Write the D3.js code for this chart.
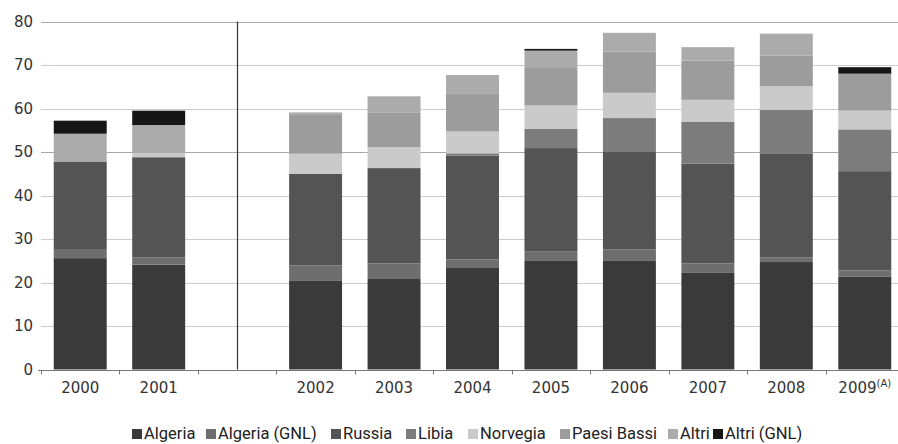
<!DOCTYPE html>
<html><head><meta charset="utf-8">
<script src="https://cdn.jsdelivr.net/npm/d3@7/dist/d3.min.js"></script>
<style>
html,body{margin:0;padding:0;background:#fff;}
svg{display:block;}
</style></head>
<body><svg id="c" width="898" height="444"></svg>
<script>
const years = ["2000","2001","gap","2002","2003","2004","2005","2006","2007","2008","2009"];
const yearLabels = ["2000","2001","","2002","2003","2004","2005","2006","2007","2008","2009"];
const seriesNames = ["Algeria","Algeria (GNL)","Russia","Libia","Norvegia","Paesi Bassi","Altri","Altri (GNL)"];
const algeria     = [25.6, 24.1, 0, 20.5, 20.8, 23.5, 25.1, 25.1, 22.2, 24.7, 21.4];
const algeriaGNL  = [ 2.1,  1.7, 0,  3.4,  3.6,  1.8,  2.1,  2.5,  2.2,  1.1,  1.4];
const russia      = [20.0, 23.0, 0, 21.1, 21.9, 23.9, 23.7, 22.4, 22.9, 23.9, 22.8];
const libia       = [ 0.0,  0.0, 0,  0.0,  0.0,  0.5,  4.4,  7.8,  9.6, 10.0,  9.6];
const norvegia    = [ 0.0,  1.0, 0,  4.6,  4.8,  5.0,  5.4,  5.8,  5.1,  5.4,  4.3];
const paesiBassi  = [ 0.0,  0.0, 0,  9.1,  7.9,  8.8,  8.6,  9.5,  9.0,  7.1,  8.5];
const altri       = [ 6.5,  6.4, 0,  0.4,  3.8,  4.2,  4.0,  4.3,  3.1,  5.0,  0.0];
const altriGNL    = [ 3.0,  3.3, 0,  0.0,  0.0,  0.0,  0.4,  0.0,  0.0,  0.0,  1.5];
const yTicks = [0,10,20,30,40,50,60,70,80];
const colors = ["#3a3a3a","#6e6e6e","#545454","#7c7c7c","#cacaca","#9c9c9c","#ababab","#161616"];

const seriesArrays = [algeria, algeriaGNL, russia, libia, norvegia, paesiBassi, altri, altriGNL];
const table = years.map((yr,i)=>{const o={year:yr}; seriesNames.forEach((s,k)=>o[s]=seriesArrays[k][i]); return o;});

const svg = d3.select("#c");
const mLeft = 41, mRight = 904, mTop = 21.5, mBottom = 369.5;
const x = d3.scaleBand().domain(years).range([mLeft,mRight]).paddingInner(0.325).paddingOuter(0.1625);
const y = d3.scaleLinear().domain([0,80]).range([mBottom, mTop]);

// gridlines
svg.append("g").selectAll("line").data(yTicks.filter(d=>d>0)).join("line")
  .attr("x1",mLeft).attr("x2",898).attr("y1",d=>Math.round(y(d))+0.5).attr("y2",d=>Math.round(y(d))+0.5)
  .attr("stroke",d=>(d===50||d===80)?"#a8a8a8":"#cccccc").attr("stroke-width",1);

// bars
const stack = d3.stack().keys(seriesNames)(table);
svg.append("g").selectAll("g").data(stack).join("g")
  .attr("fill",(d,i)=>colors[i])
  .selectAll("rect").data(d=>d.filter(p=>p.data.year!=="gap" && p[1]-p[0]>0)).join("rect")
  .attr("x",d=>x(d.data.year)).attr("width",x.bandwidth())
  .attr("y",d=>y(d[1])).attr("height",d=>y(d[0])-y(d[1]));

// separator
const sepX = Math.round(x("gap")+x.bandwidth()/2)+0.5;
svg.append("line").attr("x1",sepX).attr("x2",sepX).attr("y1",y(80)).attr("y2",y(0))
  .attr("stroke","#333").attr("stroke-width",1.2);

// y axis labels
const yAxis = d3.axisLeft(y).tickValues(yTicks).tickSize(0).tickPadding(9);
const gy = svg.append("g").attr("transform",`translate(${mLeft+1},0)`).call(yAxis);
gy.select(".domain").remove();
gy.selectAll("text").attr("font-family","DejaVu Sans").attr("font-size",15).attr("fill","#333");

// x axis
const gx = svg.append("g").attr("transform",`translate(0,${Math.round(y(0))+0.5})`)
  .call(d3.axisBottom(x).tickSize(0).tickPadding(12).tickFormat((d,i)=>yearLabels[i]));
gx.select(".domain").remove();
gx.append("line").attr("x1",mLeft-3).attr("x2",898).attr("stroke","#777");
gx.selectAll(".tick text").attr("font-family","DejaVu Sans").attr("font-size",15).attr("fill","#333");
const step = x.step();
gx.append("g").selectAll("line").data(d3.range(0,12)).join("line")
  .attr("x1",i=>Math.round(mLeft+i*step)+0.5).attr("x2",i=>Math.round(mLeft+i*step)+0.5)
  .attr("y1",0).attr("y2",4).attr("stroke","#777");
// superscript (A) on 2009
gx.selectAll(".tick text").filter(d=>d==="2009").each(function(){
  const t=d3.select(this);
  t.append("tspan").attr("font-size",10).attr("dy",-6).text("(A)");
});

// legend
const legX = [132,206,331,406,468,560,668,713];
const lg = svg.append("g");
seriesNames.forEach((s,i)=>{
  const g = lg.append("g").attr("transform",`translate(${legX[i]},0)`);
  g.append("rect").attr("x",0).attr("y",429).attr("width",10).attr("height",10).attr("fill",colors[i]);
  g.append("text").attr("x",12).attr("y",439).attr("font-family","Roboto, sans-serif")
    .attr("font-size",16.5).attr("fill","#222").text(s);
});
</script></body></html>
